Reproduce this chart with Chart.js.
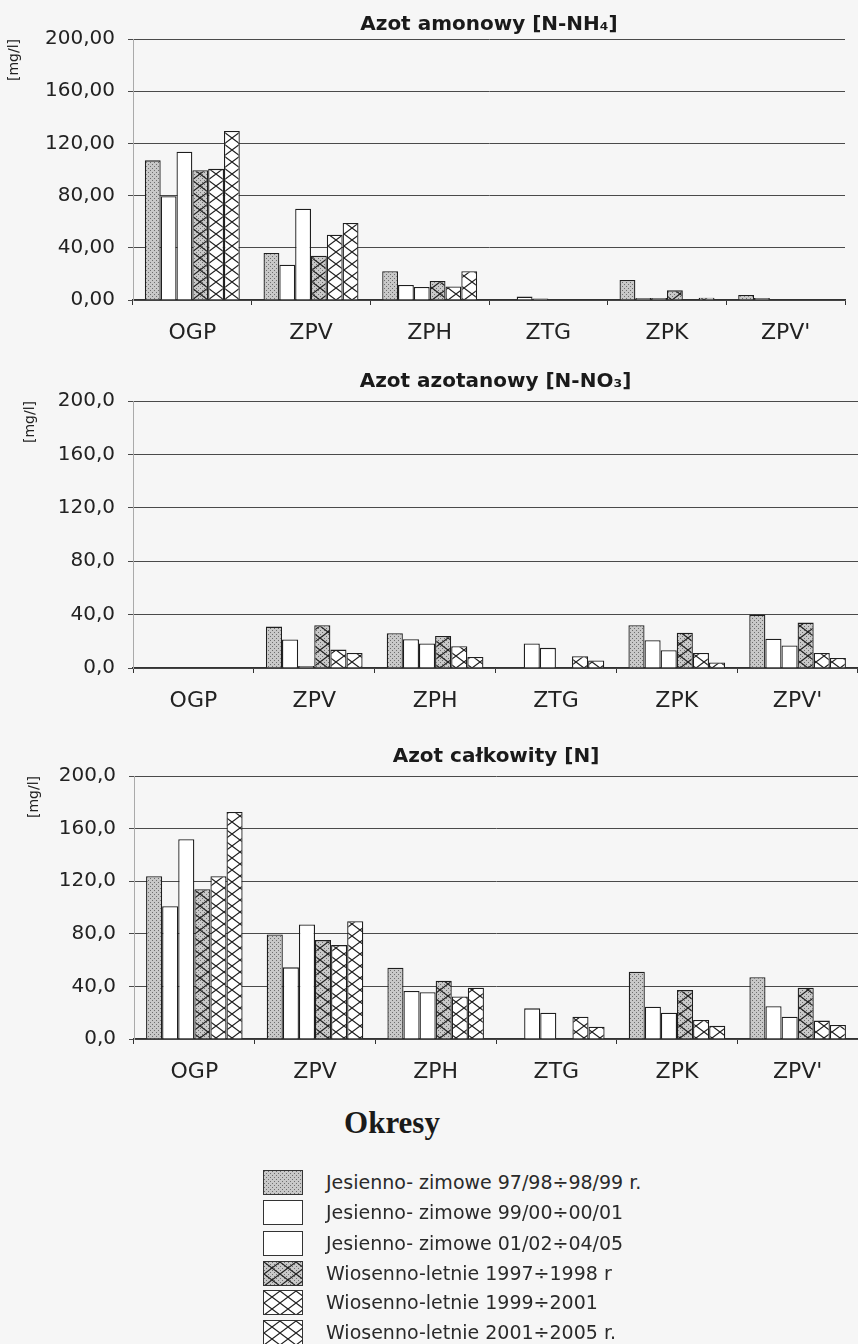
<!DOCTYPE html>
<html>
<head>
<meta charset="utf-8">
<script src="https://cdn.jsdelivr.net/npm/chart.js@4.4.0/dist/chart.umd.min.js"></script>
<style>
  body { margin: 0; background: #f6f6f6; width: 858px; height: 1344px; position: relative; overflow: hidden; font-family: "DejaVu Sans", sans-serif; color: #222; }
  .box { position: absolute; left: 0; }
  #okresy { position: absolute; left: 0; width: 784px; top: 1105px; text-align: center; font: bold 31px "Liberation Serif", serif; color: #1a1a1a; }
  .row { position: absolute; left: 263px; height: 23px; display: flex; align-items: center; }
  .row canvas { border: 1.5px solid #333; box-sizing: border-box; }
  .row span { margin-left: 23px; font-size: 19px; color: #2a2a2a; white-space: nowrap; }
</style>
</head>
<body>
<div class="box" style="top:0"><canvas id="c1" width="858" height="350"></canvas></div>
<div class="box" style="top:350px"><canvas id="c2" width="858" height="370"></canvas></div>
<div class="box" style="top:720px"><canvas id="c3" width="858" height="370"></canvas></div>
<div id="okresy">Okresy</div>
<div id="legend"></div>
<script>
const categories = ['OGP', 'ZPV', 'ZPH', 'ZTG', 'ZPK', "ZPV'"];
const periods = [
  'Jesienno- zimowe 97/98÷98/99 r.',
  'Jesienno- zimowe 99/00÷00/01',
  'Jesienno- zimowe 01/02÷04/05',
  'Wiosenno-letnie 1997÷1998 r',
  'Wiosenno-letnie 1999÷2001',
  'Wiosenno-letnie 2001÷2005 r.'
];
const yTicks = [0, 40, 80, 120, 160, 200];

// Azot amonowy [N-NH4], one array per period
const nh4P1 = [107, 36, 22, null, 15.4, 3.8];
const nh4P2 = [79.5, 27, 11.5, 2.6, 1.5, 1.5];
const nh4P3 = [113.6, 70, 10, 1.2, 1.5, null];
const nh4P4 = [99.5, 34, 14.6, null, 7.4, null];
const nh4P5 = [100.5, 50, 10.3, null, null, null];
const nh4P6 = [129.5, 59, 22, null, 1.8, null];

// Azot azotanowy [N-NO3]
const no3P1 = [null, 31, 26, null, 32, 40];
const no3P2 = [null, 21.4, 21.5, 18.3, 20.8, 22];
const no3P3 = [null, 1.5, 18.3, 15.1, 13.3, 16.8];
const no3P4 = [null, 32, 24, null, 26.4, 34];
const no3P5 = [null, 13.8, 16.3, 8.8, 11.3, 11.3];
const no3P6 = [null, 11.3, 8.3, 5.7, 4.2, 7.5];

// Azot calkowity [N]
const nP1 = [123.8, 79.5, 54.2, null, 51.1, 47];
const nP2 = [101, 54.5, 36.5, 23.3, 24.5, 25];
const nP3 = [151.9, 87.1, 35.5, 20, 20, 17];
const nP4 = [113.9, 75.2, 44.3, null, 37.2, 39];
const nP5 = [123.8, 71.4, 32.4, 17, 14.4, 14];
const nP6 = [172.7, 89.6, 39, 9.3, 10, 10.6];

Chart.defaults.font.family = "'DejaVu Sans', sans-serif";
Chart.defaults.color = '#222';

// fill patterns
function tile(w, h, dots, cross) {
  const c = document.createElement('canvas');
  c.width = w; c.height = h;
  const g = c.getContext('2d');
  g.fillStyle = dots ? '#c8c8c8' : '#ffffff';
  g.fillRect(0, 0, w, h);
  if (dots) {
    g.fillStyle = '#6e6e6e';
    for (let y = 0; y < h; y += 2)
      for (let x = (y % 4 === 0 ? 0 : 2); x < w; x += 4) g.fillRect(x, y, 1, 1);
  }
  if (cross) {
    g.strokeStyle = '#222';
    g.lineWidth = 1.2;
    for (let dx = -w; dx <= w; dx += w) {
      g.beginPath();
      g.moveTo(dx, 0); g.lineTo(dx + w, h);
      g.moveTo(dx + w, 0); g.lineTo(dx, h);
      g.stroke();
    }
  }
  return g.createPattern(c, 'repeat');
}
const fills = [
  tile(16, 12, true, false),
  '#ffffff',
  '#ffffff',
  tile(16, 12, true, true),
  tile(16, 12, false, true),
  tile(16, 12, false, true)
];

function makeChart(id, values, o) {
  return new Chart(document.getElementById(id), {
    type: 'bar',
    data: {
      labels: categories,
      datasets: values.map((v, i) => ({
        label: periods[i],
        data: v,
        backgroundColor: fills[i],
        borderColor: '#1e1e1e',
        borderWidth: 1.3,
        categoryPercentage: 0.8,
        barPercentage: 1
      }))
    },
    options: {
      responsive: false,
      animation: false,
      layout: { padding: { left: 0, right: o.right, top: 0, bottom: 0 } },
      plugins: {
        legend: { display: false },
        tooltip: { enabled: false },
        title: {
          display: true,
          text: o.title,
          fullSize: false,
          color: '#1a1a1a',
          font: { size: 20, weight: 'bold' },
          padding: { top: o.titleTop, bottom: o.titleBottom }
        }
      },
      scales: {
        x: {
          offset: true,
          grid: { offset: true, drawOnChartArea: false, tickLength: 5, color: '#333' },
          border: { color: '#333', width: 1.3 },
          ticks: { font: { size: 22 }, padding: 15, color: '#222' },
          afterFit: s => { s.height = o.xHeight; }
        },
        y: {
          min: 0,
          max: 200,
          afterBuildTicks: s => { s.ticks = yTicks.map(v => ({ value: v })); },
          grid: { color: '#4a4a4a', lineWidth: 1, tickLength: 5 },
          border: { color: '#aaa', width: 1 },
          ticks: {
            font: { size: 20 },
            padding: 13,
            color: '#222',
            callback: v => v.toFixed(o.dec).replace('.', ',')
          },
          title: { display: true, text: '[mg/l]', align: 'end', font: { size: 14 }, padding: { top: o.unitPad } },
          afterFit: s => { s.width = o.yWidth; }
        }
      }
    }
  });
}

makeChart('c1', [nh4P1, nh4P2, nh4P3, nh4P4, nh4P5, nh4P6],
  { title: 'Azot amonowy [N-NH₄]', dec: 2, right: 13, yWidth: 133, titleTop: 13, titleBottom: 2, xHeight: 50, unitPad: 6 });
makeChart('c2', [no3P1, no3P2, no3P3, no3P4, no3P5, no3P6],
  { title: 'Azot azotanowy [N-NO₃]', dec: 1, right: 0, yWidth: 133, titleTop: 20, titleBottom: 7, xHeight: 52, unitPad: 22 });
makeChart('c3', [nP1, nP2, nP3, nP4, nP5, nP6],
  { title: 'Azot całkowity [N]', dec: 1, right: 0, yWidth: 134, titleTop: 25, titleBottom: 7, xHeight: 51, unitPad: 26 });

// legend built from the same periods and fills
const rowCenters = [1182, 1212, 1243, 1273, 1302, 1332];
const legend = document.getElementById('legend');
periods.forEach((p, i) => {
  const row = document.createElement('div');
  row.className = 'row';
  row.style.top = (rowCenters[i] - 11.5) + 'px';
  const sw = document.createElement('canvas');
  sw.width = 38; sw.height = 23;
  const g = sw.getContext('2d');
  g.fillStyle = fills[i];
  g.fillRect(0, 0, 38, 23);
  const t = document.createElement('span');
  t.textContent = p;
  row.appendChild(sw);
  row.appendChild(t);
  legend.appendChild(row);
});
</script>
</body>
</html>
